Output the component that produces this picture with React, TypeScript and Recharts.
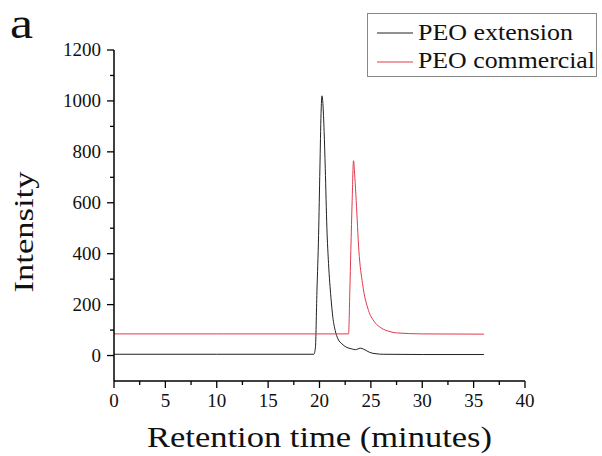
import React from 'react';
import { LineChart, Line, XAxis, YAxis, Legend, Label } from 'recharts';

// PEO extension (black)
const extTime = [0, 10, 19.45, 19.6, 19.75, 19.91, 20.04, 20.15, 20.24, 20.33, 20.45, 20.56, 20.72, 20.88, 21.11, 21.3, 21.53, 21.8, 22.18, 22.6, 23.15, 23.5, 23.75, 23.96, 24.3, 24.9, 25.5, 26.2, 30, 36];
const extIntensity = [5, 5, 5, 30, 250, 472, 736, 950, 1020, 990, 880, 736, 500, 361, 229, 150, 98, 65, 46, 33, 26, 23, 26, 29, 25, 12, 7, 5, 4, 4];

// PEO commercial (red)
const comTime = [0, 10, 22.83, 22.95, 23.05, 23.18, 23.31, 23.44, 23.57, 23.83, 24.19, 24.77, 25.3, 25.9, 26.6, 27.5, 30, 36];
const comIntensity = [85, 85, 85, 250, 413, 610, 765, 700, 610, 413, 282, 177, 135, 111, 97, 89, 85, 84];

const seriesNames = ['PEO extension', 'PEO commercial'];
const seriesColors = ['#222222', '#e23a4c'];

const xTicks = [0, 2.5, 5, 7.5, 10, 12.5, 15, 17.5, 20, 22.5, 25, 27.5, 30, 32.5, 35, 37.5, 40];
const yTicks = [0, 100, 200, 300, 400, 500, 600, 700, 800, 900, 1000, 1100, 1200];

const xTitle = 'Retention time (minutes)';
const yTitle = 'Intensity';
const panelLetter = 'a';

const extData = extTime.map((t, i) => ({ t, v: extIntensity[i] }));
const comData = comTime.map((t, i) => ({ t, v: comIntensity[i] }));

const FONT = "'Liberation Serif', 'Times New Roman', Tinos, serif";
const fontStyle = { fontFamily: FONT };

const YTick = (props: any) => {
  const { x, y, payload } = props;
  const major = payload.value % 200 === 0;
  return (
    <g>
      <line x1={x} x2={x - (major ? 7 : 4)} y1={y} y2={y} stroke="#000" strokeWidth={1.3} />
      {major && (
        <text x={x - 13} y={y} dy={6} textAnchor="end" fontSize={19} style={fontStyle} fill="#111">
          {payload.value}
        </text>
      )}
    </g>
  );
};

const XTick = (props: any) => {
  const { x, y, payload } = props;
  const major = payload.value % 5 === 0;
  return (
    <g>
      <line x1={x} x2={x} y1={y} y2={y + (major ? 7 : 4)} stroke="#000" strokeWidth={1.3} />
      {major && (
        <text x={x} y={y + 26} textAnchor="middle" fontSize={19} style={fontStyle} fill="#111">
          {payload.value}
        </text>
      )}
    </g>
  );
};

const legendLengths = [155, 177];

const renderLegend = (props: any) => {
  const payload = [...(props.payload || [])].sort(
    (a: any, b: any) => seriesNames.indexOf(a.value) - seriesNames.indexOf(b.value)
  );
  return (
    <svg width={230} height={64} style={{ display: 'block' }}>
      <rect x={0.5} y={0.5} width={229} height={63} fill="#fff" stroke="#888" strokeWidth={1} />
      {payload.map((p: any, i: number) => (
        <g key={i}>
          <line x1={10} x2={46} y1={20 + i * 29} y2={20 + i * 29} stroke={p.color} strokeWidth={1} />
          <text
            x={51}
            y={27 + i * 28}
            fontSize={23}
            style={fontStyle}
            fill="#111"
            textLength={legendLengths[seriesNames.indexOf(p.value)]}
            lengthAdjust="spacingAndGlyphs"
          >
            {p.value}
          </text>
        </g>
      ))}
    </svg>
  );
};

export default function App() {
  return (
    <div style={{ position: 'absolute', left: 0, top: 0, width: 602, height: 456, background: '#fff' }}>
      <LineChart width={602} height={456} margin={{ top: 50, right: 77, bottom: 45, left: 54 }}>
        <XAxis
          type="number"
          dataKey="t"
          domain={[0, 40]}
          ticks={xTicks}
          interval={0}
          height={30}
          tickSize={0}
          tickMargin={0}
          tick={<XTick />}
          axisLine={{ stroke: '#000', strokeWidth: 1.5 }}
          allowDuplicatedCategory={false}
        >
          <Label
            content={() => (
              <text
                x={319.5}
                y={447}
                textAnchor="middle"
                fontSize={29}
                style={fontStyle}
                fill="#111"
                textLength={345}
                lengthAdjust="spacingAndGlyphs"
              >
                {xTitle}
              </text>
            )}
          />
        </XAxis>
        <YAxis
          type="number"
          domain={[-100, 1200]}
          ticks={yTicks}
          interval={0}
          width={60}
          tickSize={0}
          tickMargin={0}
          tick={<YTick />}
          axisLine={{ stroke: '#000', strokeWidth: 1.5 }}
        >
          <Label
            content={() => (
              <text
                x={0}
                y={0}
                transform="translate(33, 232) rotate(-90)"
                textAnchor="middle"
                fontSize={28}
                style={fontStyle}
                fill="#111"
                textLength={121}
                lengthAdjust="spacingAndGlyphs"
              >
                {yTitle}
              </text>
            )}
          />
        </YAxis>
        <Legend
          layout="vertical"
          align="center"
          verticalAlign="middle"
          content={renderLegend}
          wrapperStyle={{ position: 'absolute', left: 367, top: 13, width: 230, height: 64 }}
        />
        <Line
          data={extData}
          dataKey="v"
          name={seriesNames[0]}
          type="monotone"
          stroke={seriesColors[0]}
          strokeWidth={1}
          dot={false}
          activeDot={false}
          isAnimationActive={false}
        />
        <Line
          data={comData}
          dataKey="v"
          name={seriesNames[1]}
          type="monotone"
          stroke={seriesColors[1]}
          strokeWidth={1}
          dot={false}
          activeDot={false}
          isAnimationActive={false}
        />
      </LineChart>
      <svg width={60} height={50} style={{ position: 'absolute', left: 0, top: 0 }}>
        <text x={10} y={38} fontSize={44} style={fontStyle} fill="#111" textLength={23} lengthAdjust="spacingAndGlyphs">
          {panelLetter}
        </text>
      </svg>
    </div>
  );
}
